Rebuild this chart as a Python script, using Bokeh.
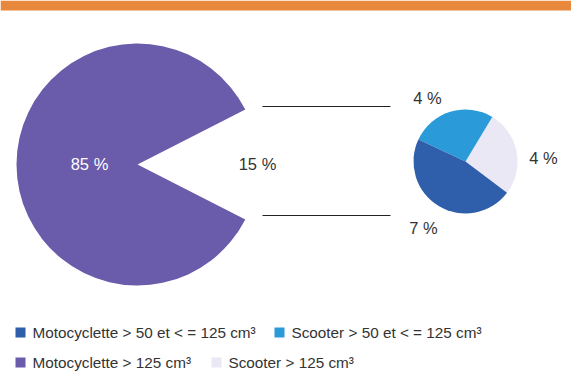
from bokeh.plotting import figure
from bokeh.models import Range1d, ColumnDataSource
from bokeh.core.properties import value
from bokeh.embed import file_html
from bokeh.resources import INLINE
import math

# ---- data ----
main_labels = ["Motocyclette > 125 cm³"]
main_values = [85]
detail_labels = ["Scooter > 125 cm³", "Scooter > 50 et < = 125 cm³", "Motocyclette > 50 et < = 125 cm³"]
detail_values = [4, 4, 7]
legend_labels = ["Motocyclette > 50 et < = 125 cm³", "Scooter > 50 et < = 125 cm³",
                 "Motocyclette > 125 cm³", "Scooter > 125 cm³"]

# ---- style ----
C_PURPLE = "#6a5cab"
C_DARK = "#2f5fab"
C_LIGHT = "#2b9ad9"
C_PALE = "#e9e8f4"
C_ORANGE = "#e8883c"
TXT = "#333333"
FONT = value("Liberation Sans")
W, H = 571, 381

def Y(px):
    return H - px

p = figure(width=W, height=H, output_backend="svg", toolbar_location=None,
           x_range=Range1d(0, W), y_range=Range1d(0, H), min_border=0)
p.axis.visible = False
p.grid.visible = False
p.outline_line_color = None
p.background_fill_color = "white"
p.border_fill_color = "white"

# orange top band
p.quad(left=[0], right=[W], bottom=[Y(10)], top=[H], fill_color=C_ORANGE, line_color=None)

# big pie (85 %), gap centred on the right
cx, cy, r = 137, Y(164), 121
gap = (100 - main_values[0]) / 100 * 2 * math.pi
p.wedge(x=[cx], y=[cy], radius=r, start_angle=[gap / 2], end_angle=[2 * math.pi - gap / 2],
        fill_color=C_PURPLE, line_color=None)

# connector lines
p.segment(x0=[262, 262], y0=[Y(106), Y(215)], x1=[390, 390], y1=[Y(106), Y(215)],
          line_color="#222222", line_width=1)

# small pie
sx, sy, sr = 465, Y(161), 52
total = sum(detail_values)
start = math.radians(-37)
starts, ends = [], []
a = start
for v in detail_values:
    starts.append(a)
    a += v / total * 2 * math.pi
    ends.append(a)
src = ColumnDataSource(dict(s=starts, e=ends, c=[C_PALE, C_LIGHT, C_DARK]))
p.wedge(x=sx, y=sy, radius=sr, start_angle="s", end_angle="e", fill_color="c",
        line_color=None, source=src)

# value labels
LBL = "16.5px"
p.text(x=[89], y=[Y(163)], text=[f"{main_values[0]} %"], text_color="white",
       text_font=FONT, text_font_size=LBL, text_align="center", text_baseline="middle")
p.text(x=[257], y=[Y(163)], text=[f"{100 - main_values[0]} %"], text_color=TXT,
       text_font=FONT, text_font_size=LBL, text_align="center", text_baseline="middle")
p.text(x=[543, 427, 423], y=[Y(157), Y(97), Y(227)], text=[f"{v} %" for v in detail_values],
       text_color=TXT, text_font=FONT, text_font_size=LBL, text_align="center",
       text_baseline="middle")

# legend
lx = [20, 279, 20, 216]
ly = [Y(332), Y(332), Y(362), Y(362)]
lc = [C_DARK, C_LIGHT, C_PURPLE, C_PALE]
p.rect(x=lx, y=ly, width=10, height=10, fill_color=lc, line_color=None)
p.text(x=[x + 12 for x in lx], y=ly, text=legend_labels, text_color=TXT, text_font=FONT,
       text_font_size="15.3px", text_align="left", text_baseline="middle")

open("out.html", "w").write(file_html(p, INLINE))
